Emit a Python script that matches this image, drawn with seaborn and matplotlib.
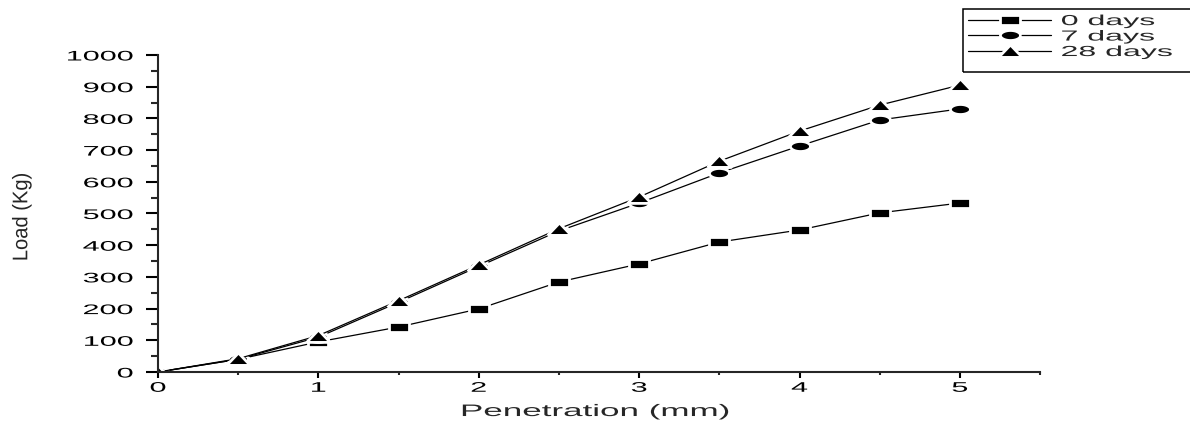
import matplotlib
matplotlib.use("Agg")
import matplotlib.pyplot as plt
import seaborn as sb
import pandas as pd
import numpy as np
from matplotlib.patheffects import AbstractPathEffect
from matplotlib.transforms import Affine2D
from matplotlib.patches import Rectangle

# Penetration values (mm)
penetration = [0, 0.5, 1, 1.5, 2, 2.5, 3, 3.5, 4, 4.5, 5]

# Load (Kg) for each curing time
load_0_days = [0, 40, 95, 142, 199, 284, 341, 410, 448, 502, 533]
load_7_days = [0, 40, 110, 220, 333, 445, 533, 628, 713, 795, 830]
load_28_days = [0, 42, 115, 225, 338, 452, 552, 665, 760, 842, 905]

series_names = ["0 days", "7 days", "28 days"]

# Wide, flat marker shapes (the original picture is stretched sideways)
_t = np.linspace(0, 2 * np.pi, 40)
square_marker = np.array([(-1, -0.5), (1, -0.5), (1, 0.5), (-1, 0.5), (-1, -0.5)])
circle_marker = np.column_stack([np.cos(_t), 0.5 * np.sin(_t)])
triangle_marker = np.array([(-1, -0.5), (1, -0.5), (0, 0.55), (-1, -0.5)])
series_markers = [square_marker, circle_marker, triangle_marker]
marker_sizes = [14, 14.5, 17]


class StretchX(AbstractPathEffect):
    """Draw text stretched sideways, like the source image."""

    def __init__(self, sx, anchor="center"):
        super().__init__()
        self.sx = sx
        self.anchor = anchor

    def draw_path(self, renderer, gc, tpath, affine, rgbFace=None):
        ext = tpath.get_extents(affine)
        if self.anchor == "right":
            x0 = ext.x1
        elif self.anchor == "left":
            x0 = ext.x0
        else:
            x0 = (ext.x0 + ext.x1) / 2
        new = Affine2D(affine.get_matrix()).translate(-x0, 0).scale(self.sx, 1).translate(x0, 0)
        renderer.draw_path(gc, tpath, new, rgbFace)


def build_frame():
    rows = []
    for name, values in zip(series_names, [load_0_days, load_7_days, load_28_days]):
        for x, y in zip(penetration, values):
            rows.append([x, y, name])
    return pd.DataFrame(rows, columns=["Penetration (mm)", "Load (Kg)", "Series"])


def plot_load_curves():
    sb.set_theme(style="ticks")
    matplotlib.rcParams['font.family'] = ['Liberation Sans', 'DejaVu Sans']
    matplotlib.rcParams['axes.linewidth'] = 1.5

    fig = plt.figure(figsize=(11.9, 4.25), dpi=100)
    ax = fig.add_axes([0.1328, 0.1247, 0.7412, 0.7459])

    df = build_frame()
    sb.lineplot(data=df, x="Penetration (mm)", y="Load (Kg)", hue="Series", style="Series",
                markers=series_markers, dashes=False, palette=["black"] * 3,
                linewidth=0.9, markersize=14, markeredgecolor="white", markeredgewidth=2.0,
                ax=ax, legend=False)
    for line, ms in zip(ax.lines, marker_sizes):
        line.set_markersize(ms)

    ax.set_xlim(0, 5.5)
    ax.set_ylim(0, 1000)
    ax.set_xticks(range(0, 6))
    ax.set_xticks([0.5, 1.5, 2.5, 3.5, 4.5, 5.5], minor=True)
    ax.set_yticks(range(0, 1001, 100))
    ax.set_yticks(range(50, 1000, 100), minor=True)
    ax.tick_params(axis="x", which="major", direction="out", length=4.3, width=1.5,
                   pad=2, labelsize=10, colors="black")
    ax.tick_params(axis="x", which="minor", direction="out", length=2.2, width=1.5)
    ax.tick_params(axis="y", which="major", direction="out", length=8.6, width=1.5,
                   pad=9.4, labelsize=10, colors="black")
    ax.tick_params(axis="y", which="minor", direction="out", length=5, width=1.5)
    sb.despine(ax=ax)

    for lab in ax.get_yticklabels():
        lab.set_path_effects([StretchX(2.2, "right")])
    for lab in ax.get_xticklabels():
        lab.set_path_effects([StretchX(2.2, "center")])

    ax.set_xlabel("Penetration (mm)", fontsize=12)
    ax.set_ylabel("Load (Kg)", fontsize=14.5)
    ax.xaxis.set_label_coords(0.496, -0.101)
    ax.xaxis.label.set_va("top")
    ax.yaxis.set_label_coords(-0.144, 0.489)
    ax.xaxis.label.set_path_effects([StretchX(2.1, "center")])
    ax.yaxis.label.set_path_effects([StretchX(1.05, "center")])

    # Legend, Origin style with the marker in the middle of the line
    handles = []
    for name, m, ms in zip(series_names, series_markers, marker_sizes):
        h, = ax.plot([], [], color="black", linewidth=0.9, marker=m, markersize=ms,
                     markeredgecolor="white", markeredgewidth=2.0, label=name)
        handles.append(h)
    leg = fig.legend(handles=handles, loc="upper left", bbox_to_anchor=(963 / 1190, 1 - 9 / 425),
                     fontsize=10.5, frameon=False, handlelength=5.7, handletextpad=0.7,
                     borderpad=0.35, labelspacing=0.1, borderaxespad=0)
    for txt in leg.get_texts():
        txt.set_path_effects([StretchX(2.2, "left")])
    fig.add_artist(Rectangle((963 / 1190, 1 - 72 / 425), (1200 - 963) / 1190, 63 / 425,
                             transform=fig.transFigure, fill=False, edgecolor="black",
                             linewidth=1.1, clip_on=False))

    plt.savefig("out.png", dpi=100)
    plt.clf()


if __name__ == '__main__':
    plot_load_curves()
